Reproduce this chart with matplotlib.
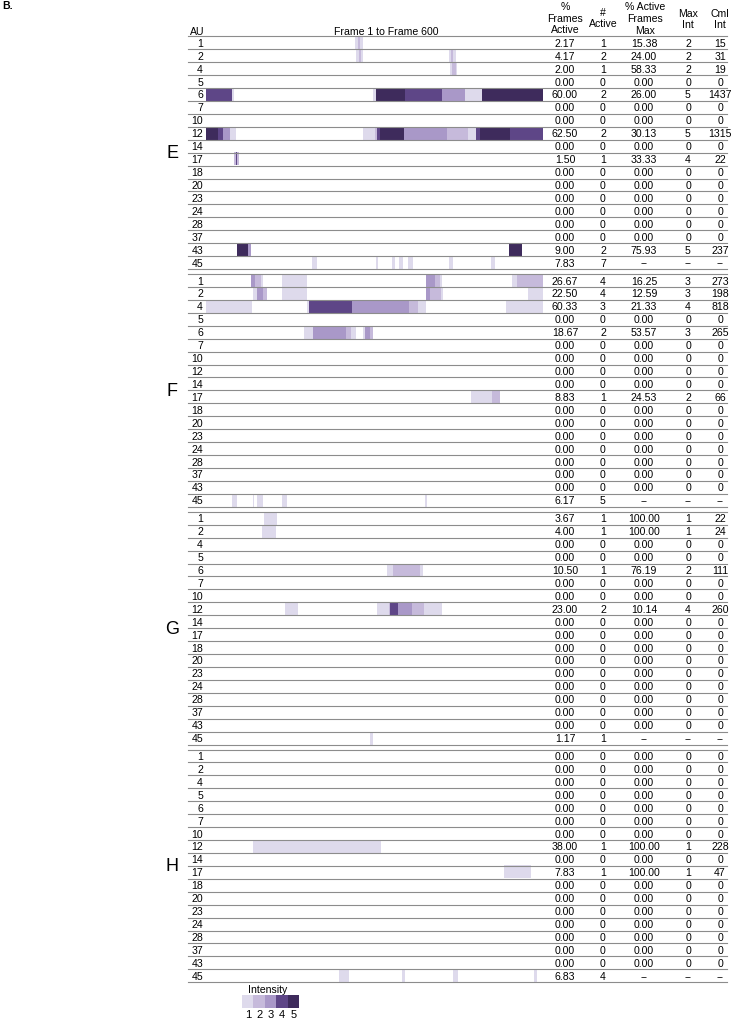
import numpy as np
import matplotlib
matplotlib.use('Agg')
import matplotlib.pyplot as plt
from matplotlib.colors import ListedColormap
from matplotlib.transforms import blended_transform_factory

plt.rcParams['font.family'] = ['Liberation Sans', 'DejaVu Sans']

au_list = [1, 2, 4, 5, 6, 7, 10, 12, 14, 17, 18, 20, 23, 24, 28, 37, 43, 45]
block_names = ['E', 'F', 'G', 'H']
n_frames = 600

intensity_levels = [1, 2, 3, 4, 5]
intensity_colors = ['#dedaec', '#c6badb', '#a998c8', '#5e4687', '#3e2b5c']

# Table columns per block (None -> "--")
E_pct = [2.17, 4.17, 2.00, 0, 60.00, 0, 0, 62.50, 0, 1.50, 0, 0, 0, 0, 0, 0, 9.00, 7.83]
E_n = [1, 2, 1, 0, 2, 0, 0, 2, 0, 1, 0, 0, 0, 0, 0, 0, 2, 7]
E_maxpct = [15.38, 24.00, 58.33, 0, 26.00, 0, 0, 30.13, 0, 33.33, 0, 0, 0, 0, 0, 0, 75.93, None]
E_max = [2, 2, 2, 0, 5, 0, 0, 5, 0, 4, 0, 0, 0, 0, 0, 0, 5, None]
E_cml = [15, 31, 19, 0, 1437, 0, 0, 1315, 0, 22, 0, 0, 0, 0, 0, 0, 237, None]

F_pct = [26.67, 22.50, 60.33, 0, 18.67, 0, 0, 0, 0, 8.83, 0, 0, 0, 0, 0, 0, 0, 6.17]
F_n = [4, 4, 3, 0, 2, 0, 0, 0, 0, 1, 0, 0, 0, 0, 0, 0, 0, 5]
F_maxpct = [16.25, 12.59, 21.33, 0, 53.57, 0, 0, 0, 0, 24.53, 0, 0, 0, 0, 0, 0, 0, None]
F_max = [3, 3, 4, 0, 3, 0, 0, 0, 0, 2, 0, 0, 0, 0, 0, 0, 0, None]
F_cml = [273, 198, 818, 0, 265, 0, 0, 0, 0, 66, 0, 0, 0, 0, 0, 0, 0, None]

G_pct = [3.67, 4.00, 0, 0, 10.50, 0, 0, 23.00, 0, 0, 0, 0, 0, 0, 0, 0, 0, 1.17]
G_n = [1, 1, 0, 0, 1, 0, 0, 2, 0, 0, 0, 0, 0, 0, 0, 0, 0, 1]
G_maxpct = [100.00, 100.00, 0, 0, 76.19, 0, 0, 10.14, 0, 0, 0, 0, 0, 0, 0, 0, 0, None]
G_max = [1, 1, 0, 0, 2, 0, 0, 4, 0, 0, 0, 0, 0, 0, 0, 0, 0, None]
G_cml = [22, 24, 0, 0, 111, 0, 0, 260, 0, 0, 0, 0, 0, 0, 0, 0, 0, None]

H_pct = [0, 0, 0, 0, 0, 0, 0, 38.00, 0, 7.83, 0, 0, 0, 0, 0, 0, 0, 6.83]
H_n = [0, 0, 0, 0, 0, 0, 0, 1, 0, 1, 0, 0, 0, 0, 0, 0, 0, 4]
H_maxpct = [0, 0, 0, 0, 0, 0, 0, 100.00, 0, 100.00, 0, 0, 0, 0, 0, 0, 0, None]
H_max = [0, 0, 0, 0, 0, 0, 0, 1, 0, 1, 0, 0, 0, 0, 0, 0, 0, None]
H_cml = [0, 0, 0, 0, 0, 0, 0, 228, 0, 47, 0, 0, 0, 0, 0, 0, 0, None]

# active segments: AU -> (first frame, last frame, intensity)
E_segments = {
    1: [(266, 271, 1), (271, 274, 2), (274, 279, 1)],
    2: [(267, 273, 1), (273, 276, 2), (276, 280, 1), (433, 437, 1), (437, 440, 2), (440, 445, 1)],
    4: [(435, 438, 1), (438, 445, 2), (445, 447, 1)],
    6: [(0, 46, 4), (46, 50, 1), (298, 302, 1), (302, 354, 5), (354, 420, 4), (420, 461, 3),
        (461, 491, 1), (491, 600, 5)],
    12: [(0, 22, 5), (22, 30, 4), (30, 43, 3), (43, 53, 1), (280, 301, 1), (301, 305, 2),
         (305, 310, 4), (310, 352, 5), (352, 429, 3), (429, 466, 2), (466, 480, 1),
         (480, 488, 4), (488, 542, 5), (542, 600, 4)],
    17: [(50, 53, 2), (53, 56, 4), (56, 59, 2)],
    43: [(55, 75, 5), (75, 80, 3), (540, 563, 5)],
    45: [(189, 197, 1), (302, 307, 1), (331, 336, 1), (343, 350, 1), (360, 369, 1),
         (433, 440, 1), (507, 514, 1)],
}
F_segments = {
    1: [(81, 87, 3), (87, 98, 2), (98, 101, 1), (135, 179, 1), (392, 408, 3), (408, 416, 2),
        (416, 420, 1), (544, 553, 1), (553, 600, 2)],
    2: [(84, 90, 1), (90, 101, 3), (101, 109, 2), (135, 180, 1), (392, 399, 3), (399, 418, 2),
        (418, 422, 1), (573, 600, 1)],
    4: [(0, 82, 1), (179, 184, 1), (184, 260, 4), (260, 361, 3), (361, 377, 2), (377, 392, 1),
        (534, 600, 1)],
    6: [(174, 190, 1), (190, 249, 3), (249, 258, 2), (258, 267, 1), (279, 283, 1),
        (283, 292, 3), (292, 297, 2)],
    17: [(471, 509, 1), (509, 523, 2)],
    45: [(47, 56, 1), (83, 85, 1), (90, 101, 1), (135, 145, 1), (390, 394, 1)],
}
G_segments = {
    1: [(103, 126, 1)],
    2: [(100, 124, 1)],
    6: [(323, 333, 1), (333, 381, 2), (381, 386, 1)],
    12: [(141, 164, 1), (305, 325, 1), (325, 328, 2), (328, 342, 4), (342, 367, 3),
         (367, 388, 2), (388, 420, 1)],
    45: [(292, 298, 1)],
}
H_segments = {
    12: [(84, 312, 1)],
    17: [(530, 578, 1)],
    45: [(237, 255, 1), (349, 355, 1), (440, 448, 1), (584, 590, 1)],
}

blocks = [
    (E_segments, E_pct, E_n, E_maxpct, E_max, E_cml),
    (F_segments, F_pct, F_n, F_maxpct, F_max, F_cml),
    (G_segments, G_pct, G_n, G_maxpct, G_max, G_cml),
    (H_segments, H_pct, H_n, H_maxpct, H_max, H_cml),
]


def build_matrix(segments):
    m = np.zeros((len(au_list), n_frames))
    for au, segs in segments.items():
        r = au_list.index(au)
        for s, e, lev in segs:
            m[r, s:e] = lev
    return m


def fmt(v, is_float):
    if v is None:
        return '--'
    return '%.2f' % v if is_float else '%d' % v


# layout in pixels
W, H = 738, 1020
row_px = 12.93
gap_px = 5.0
top_px = 37.3
gap = gap_px / row_px
nrow = len(au_list)
total_rows = 4 * nrow + 3 * gap

fig = plt.figure(figsize=(W / 100, H / 100), dpi=100)
ax = fig.add_axes([206 / W, 1 - (top_px + total_rows * row_px) / H, 337 / W, total_rows * row_px / H])
tr = blended_transform_factory(fig.transFigure, ax.transData)

cmap = ListedColormap(['white'] + intensity_colors)
line_col = '#8c8c8c'
fs = 7.6
col_x = [565, 603, 644, 688, 720]

for b, (segs, pct, n, maxpct, mx, cml) in enumerate(blocks):
    y0 = b * (nrow + gap)
    m = build_matrix(segs)
    ax.imshow(m, extent=(0, n_frames, y0 + nrow, y0), aspect='auto', interpolation='nearest',
              cmap=cmap, vmin=-0.5, vmax=5.5)

    # top line of block + line under each row
    ax.plot([188 / W, 727 / W], [y0, y0], transform=tr, color=line_col, lw=0.8, clip_on=False)
    for i in range(nrow):
        yb = y0 + i + 1
        ax.plot([188 / W, 727 / W], [yb, yb], transform=tr, color=line_col, lw=0.8, clip_on=False)
        yc = y0 + i + 0.5
        ax.text(203 / W, yc, str(au_list[i]), transform=tr, ha='right', va='center', fontsize=fs)
        vals = [fmt(pct[i], True), fmt(n[i], False), fmt(maxpct[i], True), fmt(mx[i], False), fmt(cml[i], False)]
        for x, s in zip(col_x, vals):
            ax.text(x / W, yc, s, transform=tr, ha='center', va='center', fontsize=fs)

    ax.text(172 / W, y0 + nrow / 2, block_names[b], transform=tr, ha='center', va='center', fontsize=13)

ax.set_xlim(0, n_frames)
ax.set_ylim(total_rows, 0)
ax.axis('off')

# headers
def ftext(x, y, s, **kw):
    fig.text(x / W, 1 - y / H, s, fontsize=fs, **kw)

ftext(2, 6, 'B.', fontweight='bold', ha='left', va='center')
ftext(197, 32, 'AU', ha='center', va='center')
ftext(386, 32, 'Frame 1 to Frame 600', ha='center', va='center')
ftext(565, 18.5, '%\nFrames\nActive', ha='center', va='center', linespacing=1.2, multialignment='center')
ftext(603, 18.5, '#\nActive', ha='center', va='center', linespacing=1.2, multialignment='center')
ftext(645, 19, '% Active\nFrames\nMax', ha='center', va='center', linespacing=1.2, multialignment='center')
ftext(688, 19.5, 'Max\nInt', ha='center', va='center', linespacing=1.2, multialignment='center')
ftext(720, 19.5, 'Cml\nInt', ha='center', va='center', linespacing=1.2, multialignment='center')

# legend
lax = fig.add_axes([242.3 / W, 1 - 1009 / H, 56.7 / W, 13 / H])
lax.imshow([intensity_levels], cmap=cmap, vmin=-0.5, vmax=5.5, aspect='auto',
           extent=(0.5, 5.5, 0, 1))
lax.set_xlim(0.5, 5.5)
lax.axis('off')
for lev in intensity_levels:
    lax.text(lev, -0.05, str(lev), ha='center', va='top', fontsize=8)
lax.text(2.7, 1.1, 'Intensity', ha='center', va='bottom', fontsize=fs)

fig.savefig('out.png', dpi=100)
